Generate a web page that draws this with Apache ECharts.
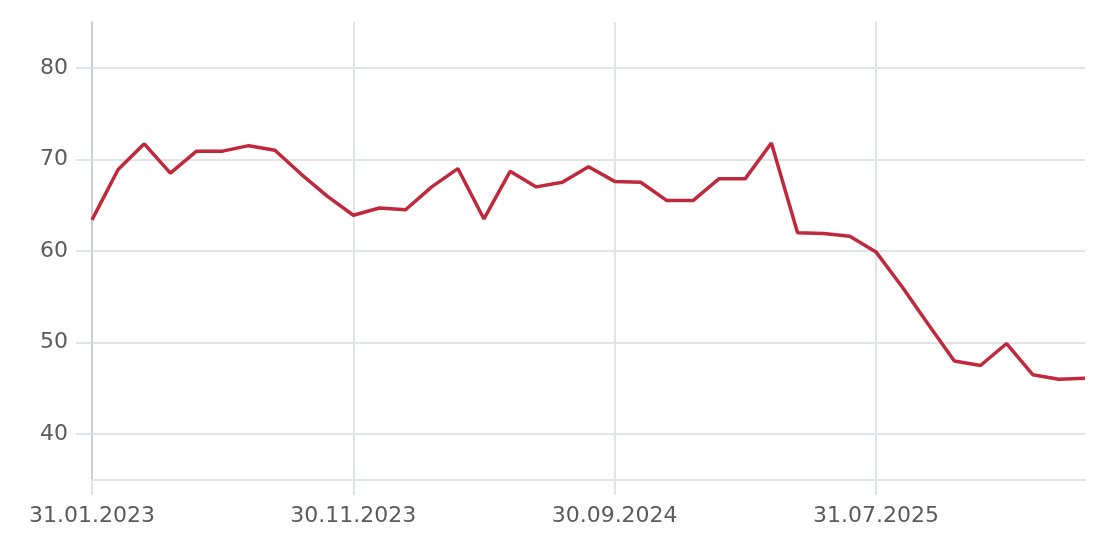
<!DOCTYPE html>
<html><head><meta charset="utf-8">
<script src="https://cdn.jsdelivr.net/npm/echarts@6/dist/echarts.min.js"></script>
<style>html,body{margin:0;padding:0;background:#fff}#c{width:1102px;height:546px}</style>
</head><body><div id="c"></div>
<script>
const categories = [
 '31.01.2023','28.02.2023','31.03.2023','30.04.2023','31.05.2023','30.06.2023','31.07.2023','31.08.2023','30.09.2023','31.10.2023',
 '30.11.2023','31.12.2023','31.01.2024','29.02.2024','31.03.2024','30.04.2024','31.05.2024','30.06.2024','31.07.2024','31.08.2024',
 '30.09.2024','31.10.2024','30.11.2024','31.12.2024','31.01.2025','28.02.2025','31.03.2025','30.04.2025','31.05.2025','30.06.2025',
 '31.07.2025','31.08.2025','30.09.2025','31.10.2025','30.11.2025','31.12.2025','31.01.2026','28.02.2026','31.03.2026'
];
const values = [
 63.4,68.9,71.7,68.5,70.9,70.9,71.5,71.0,68.4,66.0,
 63.9,64.7,64.5,67.0,69.0,63.5,68.7,67.0,67.5,69.2,
 67.6,67.5,65.5,65.5,67.9,67.9,71.8,62.0,61.9,61.6,
 59.9,56.1,52.0,48.0,47.5,49.9,46.5,46.0,46.1
];
const yTicks = [40,50,60,70,80];

const chart = echarts.init(document.getElementById('c'), null, {renderer:'canvas'});
chart.setOption({
  animation:false,
  grid:{left:92,right:17,top:22,bottom:66,containLabel:false},
  xAxis:{
    type:'category', data:categories, boundaryGap:false,
    axisLine:{show:true,lineStyle:{color:'#e0e3e7',width:2}},
    axisTick:{show:true,interval:9,length:15,lineStyle:{color:'#e0e3e7',width:2}},
    axisLabel:{interval:9,margin:25,color:'#5b5b5b',fontSize:22,fontFamily:'DejaVu Sans'},
    splitLine:{show:true,interval:9,lineStyle:{color:'#e0e3e7',width:2}}
  },
  yAxis:{
    type:'value', min:35, max:85,
    axisLine:{show:true,lineStyle:{color:'#cbced3',width:2}},
    axisTick:{show:true,customValues:yTicks,length:16,lineStyle:{color:'#e0e3e7',width:2}},
    axisLabel:{customValues:yTicks,margin:24,color:'#5b5b5b',fontSize:22,fontFamily:'DejaVu Sans'},
    splitLine:{show:true,lineStyle:{color:'#e0e3e7',width:2}}
  },
  series:[{
    type:'line', data:values, symbol:'none',
    lineStyle:{color:'#c0283c',width:3.5}
  }]
});
</script>
</body></html>
